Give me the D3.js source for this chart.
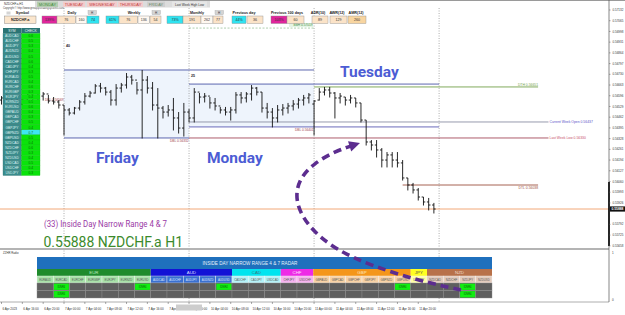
<!DOCTYPE html>
<html>
<head>
<meta charset="utf-8">
<script src="https://cdn.jsdelivr.net/npm/d3@7/dist/d3.min.js"></script>
<style>
  html, body { margin: 0; padding: 0; background: #fff; }
  svg { display: block; font-family: "Liberation Sans", Arial, sans-serif; }
</style>
</head>
<body>
<svg id="chart" width="625" height="315"></svg>
<script>
// ---------- data (NZDCHF.a H1, 6 Apr 12:00 -> 11 Apr 23:00) ----------
const opens = [
  0.56569,0.56582,0.56588,0.56563,0.56544,0.56576,0.56601,0.56588,0.56594,0.56607,0.56563,0.56557, // 6 Apr
  0.56538,0.56507,0.56488,0.56519,0.56557,0.56594,0.56613,0.56657,0.56644,0.56619,0.56569,0.56644,
  0.56663,0.56713,0.56694,0.56632,0.56694,0.56644,0.56538,0.56519,0.56494,0.56507,0.56457,0.56394, // 7 Apr
  0.56494,0.56457,0.56619,0.56588,0.56594,0.56551,0.56532,0.56507,0.56494,0.56507,0.56601,0.56582,
  0.56607,0.56644,0.56619,0.56519,0.56494,0.56457,0.56507,0.56519,0.56532,0.56544,0.56569,0.56582, // 10 Apr
  0.56544,0.56569,0.56619,0.56632,0.56613,0.56582,0.56588,0.56569,0.56582,0.56551,0.56444,0.56307,
  0.56288,0.56257,0.56194,0.56226,0.56194,0.56176,0.56082,0.56038,0.56007,0.55963,0.55932,0.55913  // 11 Apr
];
const highs = [
  0.56594,0.56607,0.56601,0.56582,0.56588,0.56613,0.56619,0.56607,0.56619,0.56601,0.56588,0.56569,
  0.56538,0.56519,0.56526,0.56569,0.56613,0.56626,0.56669,0.56676,0.56651,0.56632,0.56669,0.56676,
  0.56738,0.56726,0.56682,0.56757,0.56719,0.56682,0.56644,0.56532,0.56538,0.56582,0.56494,0.56551,
  0.56513,0.56644,0.56613,0.56613,0.56588,0.56582,0.56526,0.56526,0.56526,0.56619,0.56619,0.56619,
  0.56663,0.56651,0.56619,0.56551,0.56519,0.56538,0.56544,0.56551,0.56569,0.56582,0.56601,0.56613,
  0.56569,0.56644,0.56651,0.56651,0.56619,0.56613,0.56588,0.56601,0.56582,0.56551,0.56444,0.56319,
  0.56319,0.56269,0.56244,0.56244,0.56244,0.56194,0.56082,0.56051,0.56019,0.55963,0.55957,0.55926
];
const lows = [
  0.56544,0.56557,0.56551,0.56532,0.56538,0.56563,0.56569,0.56557,0.56569,0.56551,0.56544,0.56519,
  0.56351,0.56476,0.56482,0.56507,0.56544,0.56588,0.56613,0.56619,0.56601,0.56538,0.56538,0.56619,
  0.56644,0.56669,0.56607,0.56332,0.56613,0.56507,0.56332,0.56457,0.56469,0.56382,0.56363,0.56344,
  0.56432,0.56432,0.56551,0.56557,0.56519,0.56507,0.56488,0.56476,0.56444,0.56488,0.56551,0.56557,
  0.56569,0.56601,0.56494,0.56457,0.56401,0.56432,0.56476,0.56488,0.56507,0.56519,0.56538,0.56551,
  0.56351,0.56569,0.56601,0.56588,0.56457,0.56551,0.56538,0.56551,0.56526,0.56432,0.56288,0.56257,
  0.56213,0.56151,0.56151,0.56151,0.56151,0.56069,0.56007,0.55988,0.55944,0.55913,0.55882,0.55863
];
const closes = [
  0.56582,0.56588,0.56563,0.56544,0.56576,0.56601,0.56588,0.56594,0.56607,0.56563,0.56557,0.56538,
  0.56507,0.56488,0.56519,0.56557,0.56594,0.56613,0.56657,0.56644,0.56619,0.56569,0.56644,0.56663,
  0.56713,0.56694,0.56632,0.56694,0.56644,0.56538,0.56519,0.56494,0.56507,0.56457,0.56394,0.56494,
  0.56457,0.56619,0.56588,0.56594,0.56551,0.56532,0.56507,0.56494,0.56507,0.56601,0.56582,0.56607,
  0.56644,0.56619,0.56519,0.56494,0.56457,0.56507,0.56519,0.56532,0.56544,0.56569,0.56582,0.56601,
  0.56563,0.56619,0.56632,0.56613,0.56582,0.56594,0.56569,0.56582,0.56551,0.56444,0.56307,0.56288,
  0.56257,0.56194,0.56226,0.56194,0.56176,0.56082,0.56038,0.56007,0.55963,0.55932,0.55913,0.55888
];
const currentPrice = 0.55888;

const timeIdx = [0,4,8,12,16,20,24,28,32,36,40,44,48,52,56,60,64,68,72,76,80];
const timeLabels = ['6 Apr 2023','6 Apr 16:00','6 Apr 20:00','7 Apr 00:00','7 Apr 04:00','7 Apr 08:00',
  '7 Apr 12:00','7 Apr 16:00','7 Apr 20:00','10 Apr 00:00','10 Apr 04:00','10 Apr 08:00','10 Apr 12:00',
  '10 Apr 16:00','10 Apr 20:00','11 Apr 00:00','11 Apr 04:00','11 Apr 08:00','11 Apr 12:00',
  '11 Apr 16:00','11 Apr 20:00'];
const daySeparators = [12, 36, 60, 84];

const priceTicks = [0.57132,0.57065,0.56998,0.56931,0.56864,0.56797,0.56730,0.56663,0.56596,0.56529,
  0.56462,0.56395,0.56328,0.56261,0.56194,0.56127,0.56060,0.55993,0.55926,0.55859,0.55792,0.55725,0.55658];

// day range boxes: [startIdx, endIdx, high, low, pips]
const dayBoxes = [[12, 36, 0.56757, 0.56332, '40'], [36, 60, 0.56669, 0.56401, '25']];
const dayNames = ['Friday', 'Monday', 'Tuesday'];

// level lines: [startIdx, endIdx, price, colour, label]
const levels = [
  [12, 60, 0.56757, '#4b56a6', ''],
  [12, 36, 0.56332, '#4b56a6', ''],
  [36, 84, 0.56669, '#4b56a6', ''],
  [36, 84, 0.56401, '#5a5ab2', ''],
  [36, 105, 0.56432, '#8c90a4', 'Current Week Open 0.56437'],
  [36, 105, 0.56332, '#a44a5a', 'Last Week Low 0.56330'],
  [60, 103, 0.56651, '#74a04a', 'DTH 0.56651'],
  [77, 103, 0.56038, '#9c5040', 'DTL 0.56038']
];
const lowTags = [[36, 0.56332, 'DBL 0.56332'], [60, 0.56401, 'DBL 0.56401'], [12, 0.56569, 'DBL 0.56569']];
const weekHigh = [36, 60, 0.57019, 'BBH 0.57019'];

// watch list on the left
const watchPairs = ['AUDCAD','AUDCHF','AUDJPY','AUDNZD','AUDUSD','CADCHF','CADJPY','CHFJPY','EURAUD','EURCAD',
  'EURCHF','EURGBP','EURJPY','EURNZD','EURUSD','GBPAUD','GBPCAD','GBPCHF','GBPJPY','GBPNZD','GBPUSD',
  'NZDCAD','NZDCHF','NZDJPY','NZDUSD','USDCAD','USDCHF','USDJPY'];
const watchValues = ['0.6','0.5','0.3','0.4','0.5','0.6','0.4','0.3','0.5','0.4','0.6','0.3','0.4','0.5',
  '0.6','0.4','0.3','0.5','0.4','0.7','0.5','0.4','0.6','0.3','0.4','0.5','0.4','0.3'];
const watchHighlight = 'GBPNZD';

// top info strip
const dayButtons = ['MONDAY','TUESDAY','WEDNESDAY','THURSDAY','FRIDAY','Last Week High Low'];
const infoTitles = ['Symbol','Daily','Weekly','Monthly','Previous day','Previous 100 days','ADR(10)','AWR(12)','AMR(12)'];
const infoValues = ['139%','76','160','74','61%','76','136','54','73%','191','262','77','44%','36','103%','60','89','129','260'];

// radar table
const groupNames = ['EUR','AUD','CAD','CHF','GBP','JPY','NZD'];
const groupPairs = [
  ['EURAUD','EURCAD','EURCHF','EURGBP','EURJPY','EURNZD','EURUSD'],
  ['AUDCAD','AUDCHF','AUDJPY','AUDNZD','AUDUSD'],
  ['CADCHF','CADJPY','USDCAD'],
  ['CHFJPY','USDCHF'],
  ['GBPAUD','GBPCAD','GBPCHF','GBPJPY','GBPNZD','GBPUSD'],
  ['USDJPY'],
  ['NZDCAD','NZDCHF','NZDJPY','NZDUSD']
];
const hitPairs = ['EURCAD','EURCAD','EURUSD','AUDUSD','GBPUSD','NZDJPY','NZDJPY'];
const hitRows = [0, 1, 0, 0, 0, 0, 1];

// ---------- layout ----------
const svg = d3.select('#chart');
const axisX = 609;
const mainBottom = 248, subTop = 250, subBottom = 302;

const x = d3.scaleLinear().domain([0, 84]).range([1.5, 439.1]);
const y = d3.scaleLinear().domain([0.55888, 0.57132]).range([209, 10]);

svg.append('rect').attr('width', 625).attr('height', 315).attr('fill', '#fff');

// range boxes
svg.selectAll('rect.box').data(dayBoxes).enter().append('rect')
  .attr('x', d => x(d[0])).attr('y', d => y(d[2]))
  .attr('width', d => x(d[1]) - x(d[0])).attr('height', d => y(d[3]) - y(d[2]))
  .attr('fill', '#eef4fc');

svg.selectAll('text.pips').data(dayBoxes).enter().append('text')
  .attr('x', d => x(d[0]) + 2).attr('y', (d, i) => i === 0 ? 47 : 77)
  .attr('font-size', 3.6).attr('font-weight', 'bold').attr('fill', '#222')
  .text(d => d[4]);

// day separators
svg.selectAll('line.sep').data(daySeparators).enter().append('line')
  .attr('x1', d => x(d)).attr('x2', d => x(d)).attr('y1', 8).attr('y2', subBottom)
  .attr('stroke', '#8a8a8a').attr('stroke-width', 0.7).attr('stroke-dasharray', '1,1.5');

// level lines
svg.selectAll('line.lvl').data(levels).enter().append('line')
  .attr('x1', d => x(d[0])).attr('x2', d => x(d[1]))
  .attr('y1', d => y(d[2])).attr('y2', d => y(d[2]))
  .attr('stroke', d => d[3]).attr('stroke-width', 0.9);

svg.selectAll('text.lvl').data(levels.filter(d => d[4])).enter().append('text')
  .attr('x', d => d[4].startsWith('DT') ? x(d[1]) : x(d[1]) + 1)
  .attr('y', d => d[4].startsWith('DTH') ? y(d[2]) - 0.8 : (d[4].startsWith('DTL') ? y(d[2]) + 3.6 : y(d[2]) + 1.2))
  .attr('text-anchor', d => d[4].startsWith('DT') ? 'end' : 'start')
  .attr('font-size', 3.4)
  .attr('fill', d => d[4].startsWith('Current') ? '#5a52c8' : (d[4].startsWith('Last') ? '#c8506a' : d[3]))
  .text(d => d[4]);

svg.selectAll('text.dbl').data(lowTags).enter().append('text')
  .attr('x', d => x(d[0]) - 0.5).attr('y', d => y(d[1]) + (d[0] === 12 ? 1.2 : 3.6))
  .attr('text-anchor', 'end').attr('font-size', 3.2).attr('fill', '#a0404a')
  .text(d => d[2]);

// weekly high dashed
svg.append('line')
  .attr('x1', x(weekHigh[0])).attr('x2', x(weekHigh[1]))
  .attr('y1', y(weekHigh[2])).attr('y2', y(weekHigh[2]))
  .attr('stroke', '#7ab07a').attr('stroke-width', 0.6).attr('stroke-dasharray', '2,1.5');
svg.append('rect').attr('x', x(weekHigh[1]) - 25).attr('y', y(weekHigh[2]) - 5)
  .attr('width', 24).attr('height', 4).attr('fill', '#e4f4e4');
svg.append('text').attr('x', x(weekHigh[1]) - 1.5).attr('y', y(weekHigh[2]) - 1.8)
  .attr('text-anchor', 'end').attr('font-size', 3.2).attr('fill', '#3d8a3d').text(weekHigh[3]);

// current price line
svg.append('line').attr('x1', 0).attr('x2', axisX)
  .attr('y1', y(currentPrice)).attr('y2', y(currentPrice))
  .attr('stroke', '#f2a878').attr('stroke-width', 1);

// OHLC bars
const bars = d3.range(opens.length);
const g = svg.append('g').attr('stroke', '#111').attr('stroke-width', 0.9);
g.selectAll('line.hl').data(bars).enter().append('line')
  .attr('x1', i => x(i)).attr('x2', i => x(i))
  .attr('y1', i => y(highs[i])).attr('y2', i => y(lows[i]) + 0.5);
g.selectAll('line.o').data(bars).enter().append('line')
  .attr('x1', i => x(i) - 1.8).attr('x2', i => x(i))
  .attr('y1', i => y(opens[i])).attr('y2', i => y(opens[i]));
g.selectAll('line.c').data(bars).enter().append('line')
  .attr('x1', i => x(i)).attr('x2', i => x(i) + 1.8)
  .attr('y1', i => y(closes[i])).attr('y2', i => y(closes[i]));

// day names
const dayPos = [[96, 163], [207, 163], [340, 77]];
svg.selectAll('text.day').data(dayNames).enter().append('text')
  .attr('x', (d, i) => dayPos[i][0]).attr('y', (d, i) => dayPos[i][1])
  .attr('font-family', 'Roboto, sans-serif').attr('font-weight', 'bold')
  .attr('font-size', 15.5).attr('fill', '#4c5cd4').text(d => d);

// indicator texts
svg.append('text').attr('x', 44).attr('y', 227)
  .attr('font-family', 'Roboto, sans-serif').attr('font-size', 8.6).attr('fill', '#9a3aa6')
  .attr('textLength', 123).attr('lengthAdjust', 'spacingAndGlyphs')
  .text('(33) Inside Day Narrow Range 4 & 7');
svg.append('text').attr('x', 43.5).attr('y', 246.5)
  .attr('font-family', 'Roboto, sans-serif').attr('font-size', 15).attr('fill', '#3b8a2c')
  .attr('textLength', 139.5).attr('lengthAdjust', 'spacingAndGlyphs')
  .text(currentPrice.toFixed(5) + ' NZDCHF.a H1');

// ---------- left watch panel ----------
const wy = d3.scaleBand().domain(watchPairs).range([33.5, 175.5]);
const wp = svg.append('g');
wp.append('rect').attr('x', 3).attr('y', 28).attr('width', 18.5).attr('height', 5.5).attr('fill', '#2a7474');
wp.append('rect').attr('x', 21.5).attr('y', 28).attr('width', 18.5).attr('height', 5.5).attr('fill', '#2a7474');
wp.append('text').attr('x', 12).attr('y', 32).attr('text-anchor', 'middle').attr('font-size', 3.4)
  .attr('fill', '#e8f4f4').text('SYM');
wp.append('text').attr('x', 30.8).attr('y', 32).attr('text-anchor', 'middle').attr('font-size', 3.4)
  .attr('fill', '#e8f4f4').text('CHECK');
wp.selectAll('rect.sym').data(watchPairs).enter().append('rect')
  .attr('x', 3).attr('y', d => wy(d)).attr('width', 18.5).attr('height', wy.bandwidth())
  .attr('fill', '#3a8c8c').attr('stroke', '#2b6f6f').attr('stroke-width', 0.3);
wp.selectAll('rect.val').data(watchPairs).enter().append('rect')
  .attr('x', 21.5).attr('y', d => wy(d)).attr('width', 18.5).attr('height', wy.bandwidth())
  .attr('fill', d => d === watchHighlight ? '#3ee6f2' : '#0be30b')
  .attr('stroke', '#11b811').attr('stroke-width', 0.3);
wp.selectAll('text.sym').data(watchPairs).enter().append('text')
  .attr('x', 12).attr('y', d => wy(d) + wy.bandwidth() / 2 + 1.2).attr('text-anchor', 'middle')
  .attr('font-size', 3.3).attr('fill', '#dff0f0').text(d => d);
wp.selectAll('text.val').data(watchValues).enter().append('text')
  .attr('x', 30.8).attr('y', (d, i) => wy(watchPairs[i]) + wy.bandwidth() / 2 + 1.2).attr('text-anchor', 'middle')
  .attr('font-size', 3.3).attr('fill', '#0a6a0a').text(d => d);

// ---------- top strip ----------
svg.append('rect').attr('x', 0).attr('y', 0).attr('width', 625).attr('height', 1).attr('fill', '#9a9a9a');
svg.append('text').attr('x', 4).attr('y', 4.8).attr('font-size', 3).attr('fill', '#333').text('NZDCHF.a,H1');
svg.append('text').attr('x', 3).attr('y', 9.2).attr('font-size', 2.6).attr('fill', '#444')
  .text('Copyright © http://www.greatpipstradingsystems.com');
const btnX = [37, 63, 87, 118, 147, 172];
const btnW = [21, 22, 30, 25, 18, 35];
const btnFill = ['#b4cdb0', '#f2cccc', '#f2cccc', '#f2cccc', '#cfcfcf', '#e6e6e6'];
const btnText = ['#3f8a3a', '#c23a3a', '#c23a3a', '#c23a3a', '#6a8a6a', '#333'];
svg.append('rect').attr('x', 35).attr('y', 1).attr('width', 175).attr('height', 6.5).attr('fill', '#dcdcdc');
svg.selectAll('rect.btn').data(dayButtons).enter().append('rect')
  .attr('x', (d, i) => btnX[i]).attr('y', 1.5).attr('width', (d, i) => btnW[i]).attr('height', 5.5)
  .attr('fill', (d, i) => btnFill[i]);
svg.selectAll('text.btn').data(dayButtons).enter().append('text')
  .attr('x', (d, i) => btnX[i] + btnW[i] / 2).attr('y', 5.8).attr('text-anchor', 'middle')
  .attr('font-size', (d, i) => i === 5 ? 3.2 : 4).attr('fill', (d, i) => btnText[i]).text(d => d);

const titleX = [22.5, 72, 134, 197, 244, 287, 318, 337, 356];
svg.selectAll('text.ititle').data(infoTitles).enter().append('text')
  .attr('x', (d, i) => titleX[i]).attr('y', 14.2).attr('text-anchor', 'middle')
  .attr('font-size', 3.7).attr('font-weight', 'bold').attr('fill', '#222').text(d => d);
[[88, 'H'], [152, 'H'], [215, 'H']].forEach(b => {
  svg.append('rect').attr('x', b[0]).attr('y', 10.5).attr('width', 8.5).attr('height', 4.2)
    .attr('fill', '#d4d4d4').attr('stroke', '#999').attr('stroke-width', 0.3);
  svg.append('text').attr('x', b[0] + 4.2).attr('y', 13.8).attr('text-anchor', 'middle')
    .attr('font-size', 3).attr('fill', '#333').text(b[1]);
});
svg.append('rect').attr('x', 6.5).attr('y', 11.5).attr('width', 4).attr('height', 3).attr('fill', '#d4d4d4');
svg.append('rect').attr('x', 4.5).attr('y', 16).attr('width', 31.5).attr('height', 7.5)
  .attr('fill', '#fbe6cd').attr('stroke', '#777').attr('stroke-width', 0.4);
svg.append('text').attr('x', 20.2).attr('y', 21).attr('text-anchor', 'middle')
  .attr('font-size', 3.8).attr('font-weight', 'bold').attr('fill', '#222').text('NZDCHF.a');

const cellX = [42, 57, 76, 87, 106, 119, 138, 150, 167, 183, 201, 213, 232, 247, 271, 287, 312, 330, 348];
const cellW = [15, 18.5, 11, 12, 13, 18.5, 11.5, 11, 16, 18, 12, 10, 14, 16, 16, 17, 16, 17, 18];
const cellFill = ['#e0259c','#fbe3c8','#fff8f0','#2fe3f0','#2fe3f0','#fbe3c8','#fff8f0','#fbe3c8',
  '#2fe3f0','#fbe3c8','#fff8f0','#fbe3c8','#2fe3f0','#fbe3c8','#e0259c','#fbe3c8','#fbe3c8','#fbe3c8','#f8d5a0'];
svg.selectAll('rect.cell').data(infoValues).enter().append('rect')
  .attr('x', (d, i) => cellX[i]).attr('y', 16).attr('width', (d, i) => cellW[i]).attr('height', 7.5)
  .attr('fill', (d, i) => cellFill[i]).attr('stroke', '#8a8a8a').attr('stroke-width', 0.4);
svg.selectAll('text.cell').data(infoValues).enter().append('text')
  .attr('x', (d, i) => cellX[i] + cellW[i] / 2).attr('y', 21).attr('text-anchor', 'middle')
  .attr('font-size', 3.6).attr('fill', '#333').text(d => d);

// ---------- window separator + indicator ----------
svg.append('rect').attr('x', 0).attr('y', mainBottom).attr('width', axisX).attr('height', 2).attr('fill', '#b4b4b4');
svg.append('text').attr('x', 3).attr('y', 253.5).attr('font-size', 2.8).attr('fill', '#333').text('ZZHR Radio');

const allPairs = groupPairs.flat();
const tx = d3.scaleBand().domain(allPairs).range([37, 492]);
const groupColors = ['#1f8b2c', '#1212d6', '#00e4ef', '#ee2ae6', '#f4961a', '#ffff22', '#b8714a'];
const groupLight = ['#a9e2a9', '#3a70d0', '#b4f2f8', '#f6b3ef', '#f8d2a6', '#ffffa8', '#e3cbbd'];
const groupInk = ['#b8e8b8', '#d8d8ff', '#3a7a80', '#ffe0ff', '#ffe6c0', '#555', '#f0dccc'];
const pairGroup = {};
groupPairs.forEach((ps, gi) => ps.forEach(p => { pairGroup[p] = gi; }));

const tb = svg.append('g');
tb.append('rect').attr('x', 37).attr('y', 257).attr('width', 455).attr('height', 12).attr('fill', '#1f70bd');
tb.append('text').attr('x', 250).attr('y', 264.6).attr('text-anchor', 'middle')
  .attr('font-size', 4.6).attr('fill', '#e6f0fa').text('INSIDE DAY NARROW RANGE 4 & 7 RADAR');
tb.selectAll('rect.grp').data(groupPairs).enter().append('rect')
  .attr('x', d => tx(d[0])).attr('y', 269).attr('width', d => tx.bandwidth() * d.length).attr('height', 7)
  .attr('fill', (d, i) => groupColors[i]);
tb.selectAll('text.grp').data(groupNames).enter().append('text')
  .attr('x', (d, i) => tx(groupPairs[i][0]) + tx.bandwidth() * groupPairs[i].length / 2).attr('y', 274.3)
  .attr('text-anchor', 'middle').attr('font-size', 4.4).attr('fill', (d, i) => groupInk[i]).text(d => d);
tb.selectAll('rect.pair').data(allPairs).enter().append('rect')
  .attr('x', d => tx(d)).attr('y', 276).attr('width', tx.bandwidth()).attr('height', 7)
  .attr('fill', d => groupLight[pairGroup[d]]).attr('stroke', '#f4f4f4').attr('stroke-width', 0.4);
tb.selectAll('text.pair').data(allPairs).enter().append('text')
  .attr('x', d => tx(d) + tx.bandwidth() / 2).attr('y', 280.6).attr('text-anchor', 'middle')
  .attr('font-size', 2.8).attr('fill', d => pairGroup[d] === 1 ? '#dde6ff' : '#555').text(d => d);
[0, 1].forEach(r => {
  tb.selectAll('rect.row' + r).data(allPairs).enter().append('rect')
    .attr('x', d => tx(d)).attr('y', 283 + r * 7.5).attr('width', tx.bandwidth()).attr('height', 7.5)
    .attr('fill', '#5f5f5f').attr('stroke', '#8e8e8e').attr('stroke-width', 0.4);
});
tb.selectAll('rect.hit').data(hitPairs).enter().append('rect')
  .attr('x', d => tx(d) + 0.6).attr('y', (d, i) => 283.6 + hitRows[i] * 7.5)
  .attr('width', tx.bandwidth() - 1.2).attr('height', 6.3).attr('fill', '#11ee11');
tb.selectAll('text.hit').data(hitPairs).enter().append('text')
  .attr('x', d => tx(d) + tx.bandwidth() / 2).attr('y', (d, i) => 287.8 + hitRows[i] * 7.5)
  .attr('text-anchor', 'middle').attr('font-size', 2.6).attr('fill', '#0a5a0a').text('IDNR4');

// subwindow border
svg.append('line').attr('x1', 0).attr('x2', axisX).attr('y1', subBottom).attr('y2', subBottom)
  .attr('stroke', '#9a9a9a').attr('stroke-width', 0.8);

// ---------- arrow annotation ----------
const arrowPts = [[461, 290], [420, 281], [372, 266], [336, 250], [309, 228], [295, 203], [298, 180], [314, 163], [336, 151], [351, 146]];
svg.append('path').attr('d', d3.line().curve(d3.curveBasis)(arrowPts))
  .attr('fill', 'none').attr('stroke', '#5c2d8f').attr('stroke-width', 3.6)
  .attr('stroke-dasharray', '8,5');
svg.append('path').attr('d', 'M360,143 L351.2,151.5 L348,141.3 Z').attr('fill', '#5c2d8f');

// ---------- price axis ----------
svg.append('line').attr('x1', axisX).attr('x2', axisX).attr('y1', 0).attr('y2', subBottom)
  .attr('stroke', '#555').attr('stroke-width', 0.7);
svg.append('line').attr('x1', axisX).attr('x2', axisX).attr('y1', 182).attr('y2', 246)
  .attr('stroke', '#000').attr('stroke-width', 1.6);
const ticksShown = priceTicks.filter(p => Math.abs(y(p) - y(currentPrice)) > 6);
svg.selectAll('text.pt').data(ticksShown).enter().append('text')
  .attr('x', axisX + 3.5).attr('y', p => y(p) + 1.1).attr('font-size', 3)
  .attr('fill', '#333').text(p => p.toFixed(5));
svg.selectAll('line.pt').data(ticksShown).enter().append('line')
  .attr('x1', axisX).attr('x2', axisX + 1.5).attr('y1', p => y(p)).attr('y2', p => y(p))
  .attr('stroke', '#555').attr('stroke-width', 0.5);
svg.append('rect').attr('x', axisX + 1).attr('y', y(currentPrice) - 2.6).attr('width', 15).attr('height', 5.2)
  .attr('fill', '#111');
svg.append('text').attr('x', axisX + 2.5).attr('y', y(currentPrice) + 1.3).attr('font-size', 3.3)
  .attr('font-weight', 'bold').attr('fill', '#fff').text(currentPrice.toFixed(5));
svg.append('text').attr('x', axisX + 3).attr('y', 253.5).attr('font-size', 3).attr('fill', '#333').text('1');
svg.append('text').attr('x', axisX + 3).attr('y', 301).attr('font-size', 3).attr('fill', '#333').text('0');

// ---------- time axis ----------
svg.selectAll('line.tt').data(timeIdx).enter().append('line')
  .attr('x1', i => x(i)).attr('x2', i => x(i)).attr('y1', subBottom).attr('y2', subBottom + 2)
  .attr('stroke', '#555').attr('stroke-width', 0.5);
svg.selectAll('text.tt').data(timeLabels).enter().append('text')
  .attr('x', (d, k) => x(timeIdx[k]) + 1).attr('y', 309.5).attr('font-size', 3)
  .attr('fill', '#333').text(d => d);
svg.append('rect').attr('x', 176).attr('y', 304.5).attr('width', 26).attr('height', 6).attr('fill', '#cdcdcd');
</script>
</body>
</html>
